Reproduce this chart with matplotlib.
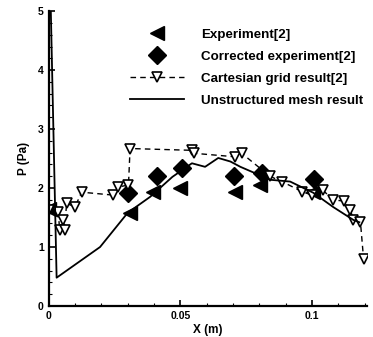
import matplotlib
matplotlib.use("Agg")
import matplotlib.pyplot as plt
from matplotlib.ticker import MultipleLocator

plt.rcParams['font.family'] = ['Liberation Sans', 'DejaVu Sans']
plt.rcParams['font.weight'] = 'bold'

# Experiment[2]
exp_x = [0.0, 0.031, 0.0397, 0.050, 0.0708, 0.0803, 0.1005]
exp_y = [1.65, 1.58, 1.93, 2.0, 1.93, 2.06, 1.93]

# Corrected experiment[2]
cor_x = [0.0303, 0.041, 0.0506, 0.0705, 0.0812, 0.1008]
cor_y = [1.91, 2.2, 2.34, 2.2, 2.25, 2.15]

# Cartesian grid result[2]
cart_x = [0.0, 0.0037, 0.0041, 0.0056, 0.0060, 0.0068, 0.0100, 0.0125, 0.0246, 0.0265,
          0.0303, 0.0309, 0.0543, 0.0550, 0.0708, 0.0733, 0.0840, 0.0886, 0.0962, 0.1000,
          0.1040, 0.1080, 0.1120, 0.1146, 0.1157, 0.1184, 0.1196]
cart_y = [1.63, 1.60, 1.29, 1.46, 1.29, 1.74, 1.68, 1.93, 1.88, 2.02,
          2.05, 2.67, 2.64, 2.59, 2.53, 2.59, 2.20, 2.11, 1.94, 1.88,
          1.97, 1.80, 1.78, 1.63, 1.46, 1.43, 0.80]

# Unstructured mesh result
uns_x = [0.0008, 0.003, 0.0195, 0.030, 0.0385, 0.047, 0.0544, 0.0594, 0.0644, 0.069,
         0.0728, 0.0842, 0.0917, 0.1005, 0.108, 0.1157, 0.118]
uns_y = [5.0, 0.48, 1.0, 1.58, 1.85, 2.19, 2.42, 2.36, 2.51, 2.45,
         2.36, 2.14, 2.11, 1.92, 1.68, 1.46, 1.42]

fig = plt.figure(figsize=(3.73, 3.37), dpi=100)
ax = fig.add_axes([0.1306, 0.092, 0.854, 0.875])

ax.plot(exp_x, exp_y, linestyle='none', marker='<', color='black', markersize=10,
        label='Experiment[2]')
ax.plot(cor_x, cor_y, linestyle='none', marker='D', color='black', markersize=9,
        label='Corrected experiment[2]')
ax.plot(cart_x, cart_y, linestyle='--', dashes=(4, 3), marker='v', color='black',
        markerfacecolor='white', markersize=7, linewidth=1.0, markeredgewidth=1.2,
        label='Cartesian grid result[2]')
ax.plot(uns_x, uns_y, linestyle='-', color='black', linewidth=1.3,
        label='Unstructured mesh result')

ax.set_xlim(0, 0.121)
ax.set_ylim(0, 5)
ax.xaxis.set_major_locator(MultipleLocator(0.05))
ax.xaxis.set_minor_locator(MultipleLocator(0.01))
ax.yaxis.set_major_locator(MultipleLocator(1))
ax.yaxis.set_minor_locator(MultipleLocator(0.2))
ax.set_xticks([0, 0.05, 0.1])
ax.set_xticklabels(['0', '0.05', '0.1'])

for s in ['top', 'right']:
    ax.spines[s].set_visible(False)
ax.spines['left'].set_linewidth(1.6)
ax.spines['bottom'].set_linewidth(1.6)
ax.tick_params(which='both', direction='in', labelsize=7.5)
ax.tick_params(which='major', length=4, width=1.2)
ax.tick_params(which='minor', length=2, width=0.8)
for lab in ax.get_xticklabels() + ax.get_yticklabels():
    lab.set_fontweight('bold')

ax.set_xlabel('X (m)', fontsize=8.5, fontweight='bold', labelpad=2)
ax.set_ylabel('P (Pa)', fontsize=8.5, fontweight='bold', labelpad=6)

leg = ax.legend(loc='upper left', bbox_to_anchor=(0.256, 0.94), frameon=False,
                fontsize=9.6, handlelength=4.0, handletextpad=1.3, labelspacing=0.72,
                borderaxespad=0.0, borderpad=0.0)
for t in leg.get_texts():
    t.set_fontweight('bold')

fig.savefig('out.png', dpi=100)
